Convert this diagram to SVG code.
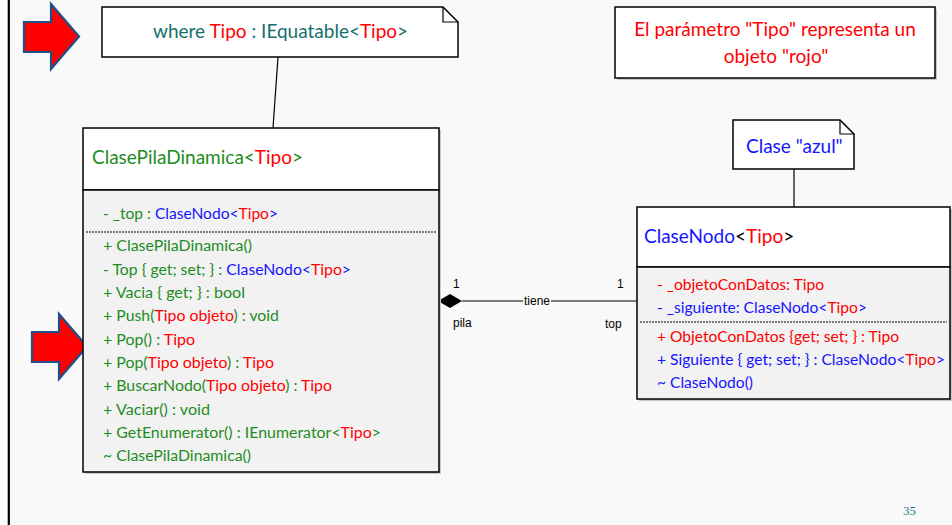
<svg xmlns="http://www.w3.org/2000/svg" width="952" height="525" viewBox="0 0 952 525">
<style>
text{font-family:Lato,"Open Sans","Liberation Sans",sans-serif;}
.m{font-size:14.5px;}
.h{font-size:19px;}
.s{font-family:"Liberation Sans",Arial,sans-serif;font-size:12px;fill:#000;}
.g{fill:#1e8c1e;}.r{fill:#ff0000;}.b{fill:#1414ff;}.k{fill:#000;}.t{fill:#14706c;}
.box{stroke:#000;stroke-width:1.5;}
.sh{fill:#c8c8c8;}
.arrow{fill:#ff0000;stroke:#1f4e8c;stroke-width:2.2;stroke-linejoin:miter;}
.ln{stroke:#000;stroke-width:1.2;fill:none;}
.dash{stroke:#000;stroke-width:1;stroke-dasharray:2 1;}
</style>
<defs>
<polygon id="arr" points="0,18 27,18 27,0 55,32.5 27,65 27,48 0,48"/>
</defs>
<rect x="0" y="0" width="952" height="525" fill="#f9f9f9"/>
<rect x="0" y="0" width="8" height="525" fill="#ffffff"/>
<rect x="7.7" y="0" width="2.2" height="525" fill="#000"/>

<g id="connectors">
<line class="ln" x1="278" y1="57" x2="273" y2="128"/>
<line class="ln" x1="794" y1="169" x2="794" y2="207"/>
<line class="ln" x1="462" y1="301" x2="523" y2="301"/>
<line class="ln" x1="551" y1="301" x2="637" y2="301"/>
<polygon points="438,301 450,294 462,301 450,308" fill="#000"/>
<text class="s" x="537" y="305" text-anchor="middle">tiene</text>
<text class="s" x="453" y="288">1</text>
<text class="s" x="453" y="327">pila</text>
<text class="s" x="617" y="288">1</text>
<text class="s" x="605" y="328">top</text>
</g>

<g id="arrow1"><use href="#arr" class="arrow" transform="translate(24,4)"/></g>
<g id="arrow2"><use href="#arr" class="arrow" transform="translate(32,314)"/></g>

<g id="note-where">
<path d="M102,7 H443 L458,22 V57 H102 Z" fill="#fff" class="box"/>
<path d="M443,7 V22 H458" class="ln" stroke-width="1.5"/>
<text class="h" x="153" y="38"><tspan class="t">where </tspan><tspan class="r">Tipo</tspan><tspan class="t"> : IEquatable&lt;</tspan><tspan class="r">Tipo</tspan><tspan class="t">&gt;</tspan></text>
</g>

<g id="note-rojo">
<rect x="617" y="9" width="320" height="71" class="sh"/>
<rect x="615" y="7" width="320" height="71" fill="#fff" class="box"/>
<text class="h r" x="775" y="36" text-anchor="middle">El parámetro "Tipo" representa un</text>
<text class="h r" x="776" y="63" text-anchor="middle">objeto "rojo"</text>
</g>

<g id="note-azul">
<path d="M733,120 H840 L854,134 V169 H733 Z" fill="#fff" class="box"/>
<path d="M840,120 V134 H854" class="ln" stroke-width="1.5"/>
<text class="h b" x="746" y="153">Clase "azul"</text>
</g>

<g id="ClasePilaDinamica">
<rect x="85" y="130" width="356" height="344" class="sh"/>
<rect x="83" y="128" width="356" height="62" fill="#fff" class="box"/>
<rect x="83" y="190" width="356" height="282" fill="#f2f2f2" class="box"/>
<line class="dash" x1="86" y1="232" x2="436" y2="232"/>
<text class="h" x="92" y="164"><tspan class="g">ClasePilaDinamica&lt;</tspan><tspan class="r">Tipo</tspan><tspan class="g">&gt;</tspan></text>
<text class="m" x="103" y="219" textLength="175" lengthAdjust="spacingAndGlyphs"><tspan class="g">- _top : </tspan><tspan class="b">ClaseNodo&lt;</tspan><tspan class="r">Tipo</tspan><tspan class="b">&gt;</tspan></text>
<text class="m g" x="103" y="251" textLength="149" lengthAdjust="spacingAndGlyphs">+ ClasePilaDinamica()</text>
<text class="m" x="103" y="274.5" textLength="248" lengthAdjust="spacingAndGlyphs"><tspan class="g">- Top { get; set; } : </tspan><tspan class="b">ClaseNodo&lt;</tspan><tspan class="r">Tipo</tspan><tspan class="b">&gt;</tspan></text>
<text class="m g" x="103" y="298" textLength="142" lengthAdjust="spacingAndGlyphs">+ Vacia { get; } : bool</text>
<text class="m" x="103" y="321" textLength="176" lengthAdjust="spacingAndGlyphs"><tspan class="g">+ Push(</tspan><tspan class="r">Tipo objeto</tspan><tspan class="g">) : void</tspan></text>
<text class="m" x="103" y="344.5" textLength="92" lengthAdjust="spacingAndGlyphs"><tspan class="g">+ Pop() : </tspan><tspan class="r">Tipo</tspan></text>
<text class="m" x="103" y="368" textLength="171" lengthAdjust="spacingAndGlyphs"><tspan class="g">+ Pop(</tspan><tspan class="r">Tipo objeto</tspan><tspan class="g">) : </tspan><tspan class="r">Tipo</tspan></text>
<text class="m" x="103" y="391" textLength="229" lengthAdjust="spacingAndGlyphs"><tspan class="g">+ BuscarNodo(</tspan><tspan class="r">Tipo objeto</tspan><tspan class="g">) : </tspan><tspan class="r">Tipo</tspan></text>
<text class="m g" x="103" y="414.5" textLength="107" lengthAdjust="spacingAndGlyphs">+ Vaciar() : void</text>
<text class="m" x="103" y="438" textLength="278" lengthAdjust="spacingAndGlyphs"><tspan class="g">+ GetEnumerator() : IEnumerator&lt;</tspan><tspan class="r">Tipo</tspan><tspan class="g">&gt;</tspan></text>
<text class="m g" x="103" y="461" textLength="148" lengthAdjust="spacingAndGlyphs">~ ClasePilaDinamica()</text>
</g>

<g id="ClaseNodo">
<rect x="639" y="209" width="313" height="192" class="sh"/>
<rect x="637" y="207" width="313" height="60" fill="#fff" class="box"/>
<rect x="637" y="267" width="313" height="132" fill="#f2f2f2" class="box"/>
<line class="dash" x1="640" y1="322" x2="947" y2="322"/>
<text class="h" x="644" y="243"><tspan class="b">ClaseNodo</tspan><tspan class="k">&lt;</tspan><tspan class="r">Tipo</tspan><tspan class="k">&gt;</tspan></text>
<text class="m r" x="657" y="289.5" textLength="167" lengthAdjust="spacingAndGlyphs">- _objetoConDatos: Tipo</text>
<text class="m" x="657" y="313" textLength="210" lengthAdjust="spacingAndGlyphs"><tspan class="b">- _siguiente: ClaseNodo&lt;</tspan><tspan class="r">Tipo</tspan><tspan class="b">&gt;</tspan></text>
<text class="m r" x="657" y="342" textLength="242" lengthAdjust="spacingAndGlyphs">+ ObjetoConDatos {get; set; } : Tipo</text>
<text class="m" x="657" y="365" textLength="288" lengthAdjust="spacingAndGlyphs"><tspan class="b">+ Siguiente { get; set; } : ClaseNodo&lt;</tspan><tspan class="r">Tipo</tspan><tspan class="b">&gt;</tspan></text>
<text class="m b" x="657" y="388" textLength="96" lengthAdjust="spacingAndGlyphs">~ ClaseNodo()</text>
</g>

<g id="page-number">
<text x="903" y="515" font-size="13" fill="#2a7a8a" style="font-family:'Liberation Serif',serif">35</text>
</g>
</svg>
